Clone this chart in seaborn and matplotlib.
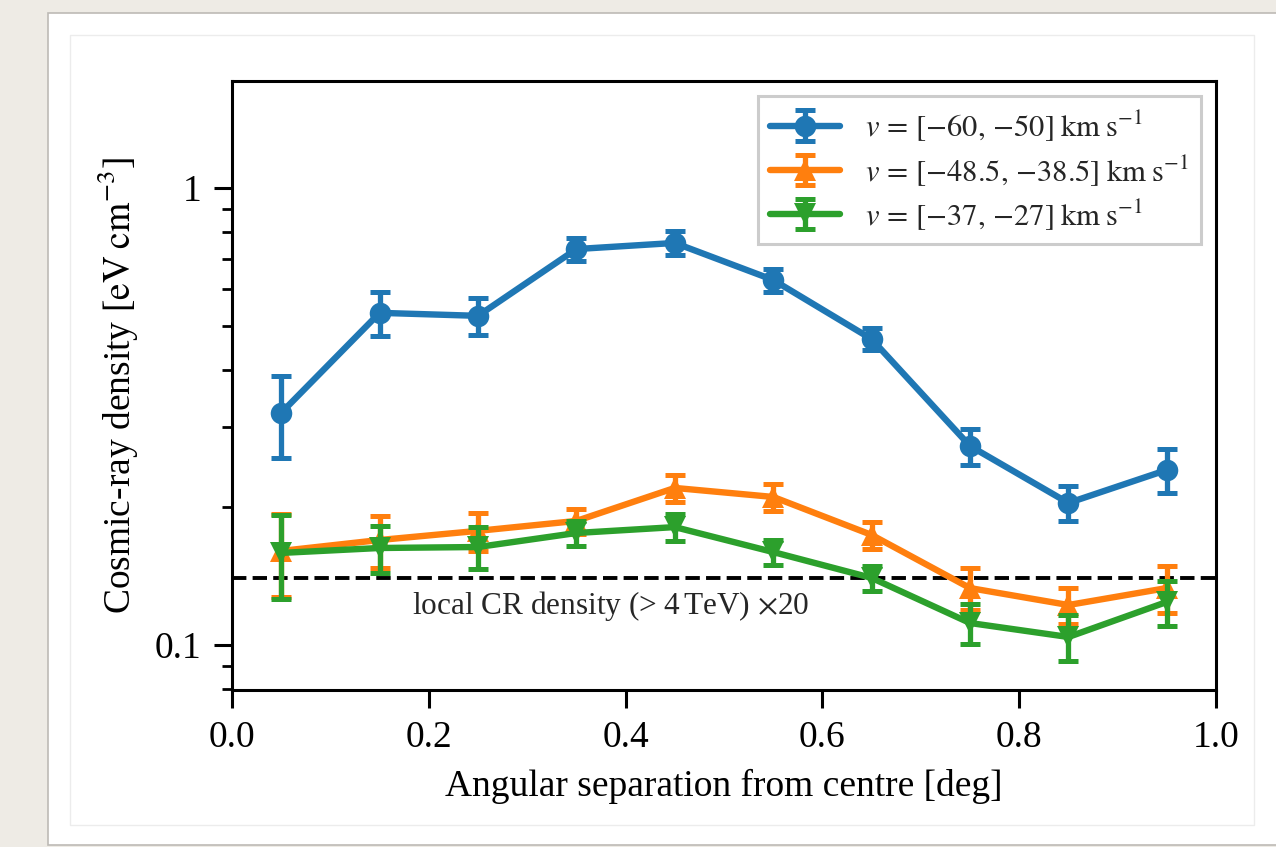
import numpy as np
import pandas as pd
import matplotlib
matplotlib.use("Agg")
import matplotlib.pyplot as plt
from matplotlib.patches import Rectangle
from matplotlib.legend_handler import HandlerTuple
import seaborn as sns

# ---------------- data ----------------
sep = [0.05, 0.15, 0.25, 0.35, 0.45, 0.55, 0.65, 0.75, 0.85, 0.95]

blue_val = [0.322, 0.533, 0.525, 0.735, 0.758, 0.629, 0.467, 0.2725, 0.2045, 0.2415]
blue_err = [0.065, 0.058, 0.049, 0.043, 0.045, 0.037, 0.026, 0.025, 0.018, 0.027]

orange_val = [0.1606, 0.1697, 0.1777, 0.1868, 0.2206, 0.2108, 0.1741, 0.1332, 0.1223, 0.1332]
orange_err = [0.033, 0.022, 0.017, 0.012, 0.015, 0.014, 0.012, 0.014, 0.011, 0.016]

green_val = [0.159, 0.163, 0.1638, 0.1758, 0.1811, 0.1597, 0.1402, 0.1117, 0.1041, 0.1242]
green_err = [0.033, 0.019, 0.017, 0.011, 0.012, 0.010, 0.009, 0.011, 0.012, 0.014]

labels = [r"$v\,=\,[{-}60,\,{-}50]\;\mathrm{km\;s^{-1}}$",
          r"$v\,=\,[{-}48.5,\,{-}38.5]\;\mathrm{km\;s^{-1}}$",
          r"$v\,=\,[{-}37,\,{-}27]\;\mathrm{km\;s^{-1}}$"]
markers = ["o", "^", "v"]

local_cr = 0.14
annot = r"local CR density (> 4$\,$TeV) $\times$20"

xticks = [0.0, 0.2, 0.4, 0.6, 0.8, 1.0]

# ---------------- style ----------------
sns.set_theme(style="ticks")
plt.rcParams["font.family"] = ["Liberation Serif", "DejaVu Serif"]
plt.rcParams["mathtext.fontset"] = "stix"
plt.rcParams["axes.linewidth"] = 2.2

colors = sns.color_palette("tab10", 3)

fig = plt.figure(figsize=(12.76, 8.47), dpi=100)
fig.patch.set_facecolor("#eeebe5")

# card
fig.add_artist(Rectangle((48 / 1276, 2 / 847), 1.0, (845 - 13) / 847,
                         transform=fig.transFigure, facecolor="white",
                         edgecolor="#bdbab5", lw=1.2, zorder=0))
fig.add_artist(Rectangle((70 / 1276, 22 / 847), (1254 - 70) / 1276, (825 - 35) / 847,
                         transform=fig.transFigure, facecolor="none",
                         edgecolor="#ececec", lw=1.0, zorder=0))

ax = fig.add_axes([232 / 1276, 157 / 847, (1216 - 232) / 1276, (690 - 81) / 847])
ax.set_facecolor("white")

series = [(blue_val, blue_err), (orange_val, orange_err), (green_val, green_err)]
handles = []
for i, ((vals, errs), lab, mk) in enumerate(zip(series, labels, markers)):
    df = pd.DataFrame({"sep": sep, "val": vals})
    sns.lineplot(data=df, x="sep", y="val", ax=ax, color=colors[i], linewidth=4.6,
                 marker=mk, markersize=15.5, markeredgewidth=0, legend=False,
                 zorder=3 + i)
    eb = ax.errorbar(sep, vals, yerr=errs, fmt="none", ecolor=colors[i],
                     elinewidth=3.8, capsize=7.5, capthick=3.6, zorder=3 + i)
    ln = plt.Line2D([], [], color=colors[i], lw=4.6, marker=mk, markersize=15.5,
                    markeredgewidth=0)
    handles.append((eb, ln))

ax.axhline(local_cr, color="black", ls="--", lw=2.8, zorder=2)
ax.text(0.385, 0.1215, annot, ha="center", va="center", fontsize=22.5)

ax.set_yscale("log")
ax.set_xlim(0.0, 1.0)
ax.set_ylim(0.0797, 1.714)
ax.set_xticks(xticks)
ax.set_xticklabels([f"{t:.1f}" for t in xticks])
ax.set_yticks([0.1, 1.0])
ax.set_yticklabels(["0.1", "1"])
ax.yaxis.set_minor_locator(matplotlib.ticker.LogLocator(base=10, subs=np.arange(2, 10)))
ax.yaxis.set_minor_formatter(matplotlib.ticker.NullFormatter())

ax.tick_params(axis="both", which="major", labelsize=27, width=2.2, length=13,
               pad=9, direction="out", color="black", labelcolor="black")
ax.tick_params(axis="y", which="minor", width=2.0, length=7.5, direction="out",
               color="black")
for s in ax.spines.values():
    s.set_color("black")
    s.set_linewidth(2.2)

ax.set_xlabel("Angular separation from centre [deg]", fontsize=27, labelpad=10,
              color="black")
ax.set_ylabel(r"Cosmic-ray density [$\mathrm{eV\;cm^{-3}}$]", fontsize=27,
              labelpad=10, color="black")

leg = ax.legend(handles, labels, loc="upper right", fontsize=22,
                handler_map={tuple: HandlerTuple(ndivide=1)},
                fancybox=False, framealpha=1.0, edgecolor="0.8",
                borderaxespad=0.5, handlelength=2.3, labelspacing=0.3,
                handletextpad=0.8)
leg.get_frame().set_linewidth(2.2)

fig.savefig("out.png", dpi=100, facecolor=fig.get_facecolor())
